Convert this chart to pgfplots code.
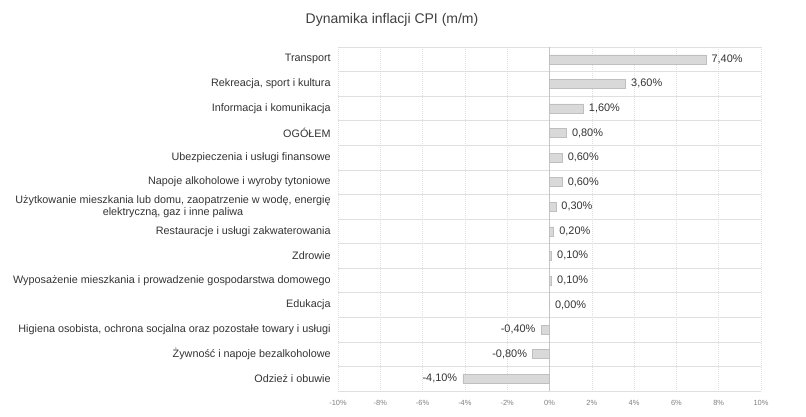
\documentclass[border=0pt]{standalone}
\usepackage{pgfplots}
\pgfplotsset{compat=1.18}
\usepackage{fontspec}
\setmainfont{Liberation Sans}
\begin{document}
\begin{tikzpicture}
\useasboundingbox (0,0) rectangle (604.5pt,312.75pt);
\node[font=\fontsize{10.5}{12}\selectfont, text=black!75] at (294pt,297.5pt) {Dynamika inflacji CPI (m/m)};
\begin{axis}[
  at={(253.5pt,19.5pt)}, anchor=south west,
  scale only axis, width=317.25pt, height=258pt,
  xbar, bar width=6.75pt,
  xmin=-10, xmax=10, xtick={-10,-8,...,10},
  ymin=-0.5, ymax=13.5, y dir=reverse,
  ytick={0,...,13},
  yticklabels={Transport,{Rekreacja, sport i kultura},Informacja i komunikacja,OGÓŁEM,Ubezpieczenia i usługi finansowe,Napoje alkoholowe i wyroby tytoniowe,{Użytkowanie mieszkania lub domu, zaopatrzenie w wodę, energię\\elektryczną, gaz i inne paliwa},Restauracje i usługi zakwaterowania,Zdrowie,Wyposażenie mieszkania i prowadzenie gospodarstwa domowego,Edukacja,{Higiena osobista, ochrona socjalna oraz pozostałe towary i usługi},Żywność i napoje bezalkoholowe,Odzież i obuwie},
  minor ytick={-0.5,0.5,...,13.5},
  ymajorgrids=false, yminorgrids=true, xmajorgrids=true,
  major grid style={gray!25, dash pattern=on 0.75pt off 0.75pt},
  minor grid style={gray!25, solid},
  axis line style={draw=none},
  major tick length=0pt, minor tick length=0pt,
  /pgf/number format/assume math mode=true,
  xticklabel={\pgfmathprintnumber{\tick}\%},
  xticklabel style={font=\fontsize{5.6}{6.5}\selectfont, text=gray, yshift=-3.5pt},
  yticklabel style={font=\fontsize{8.1}{9}\selectfont, align=center, text=black!80, xshift=-2pt},
  nodes near coords, point meta=x, nodes near coords align=horizontal,
  nodes near coords={\pgfmathprintnumber[fixed,fixed zerofill,precision=2,use comma]{\pgfplotspointmeta}\%},
  every node near coord/.append style={font=\fontsize{8.2}{9}\selectfont, text=black!80, inner xsep=4pt},
  extra x ticks={0}, extra x tick labels={},
  extra x tick style={major grid style={gray!45, solid}},
]
\addplot[fill=gray!30, draw=gray!50] coordinates {
(7.4,0) (3.6,1) (1.6,2) (0.8,3) (0.6,4) (0.6,5) (0.3,6) (0.2,7) (0.1,8) (0.1,9) (0.0,10) (-0.4,11) (-0.8,12) (-4.1,13)
};
\end{axis}
\end{tikzpicture}
\end{document}
